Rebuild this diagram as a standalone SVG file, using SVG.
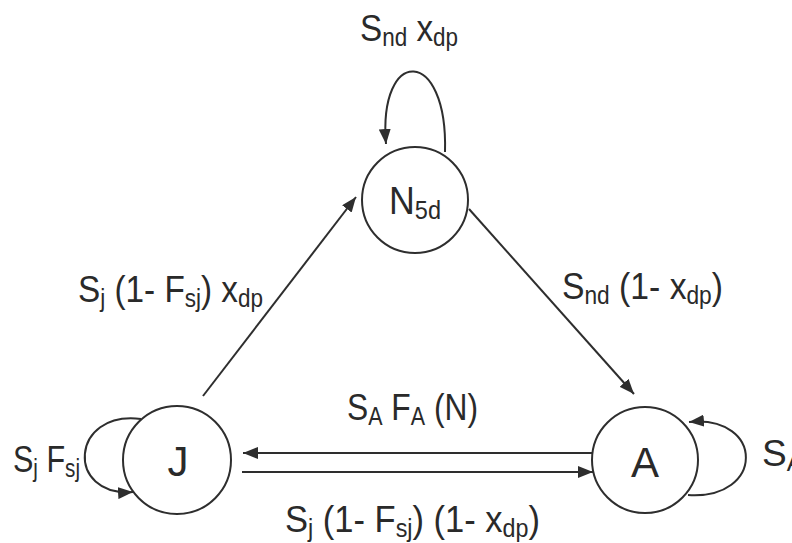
<svg xmlns="http://www.w3.org/2000/svg" width="792" height="543" viewBox="0 0 792 543">
<style>
.node{fill:#fff;stroke:#2e2e2e;stroke-width:2}
.edge{fill:none;stroke:#2e2e2e;stroke-width:2}
text{font-family:"Liberation Sans",Arial,sans-serif;fill:#2a2a2a;font-size:37px}
.sub{font-size:25px}
.nl{font-size:42px}
</style>
<defs>
<marker id="ah" markerUnits="userSpaceOnUse" markerWidth="16" markerHeight="12" refX="15" refY="6" orient="auto">
<path d="M0,0 L15,6 L0,12 z" fill="#2e2e2e"/>
</marker>
</defs>
<rect width="792" height="543" fill="#fff"/>
<g id="connectors">
<path class="edge" d="M203,396 L356,197" marker-end="url(#ah)"/>
<path class="edge" d="M469,209 L634,394" marker-end="url(#ah)"/>
<path class="edge" d="M592,453 L243,453" marker-end="url(#ah)"/>
<path class="edge" d="M242,472 L593,472" marker-end="url(#ah)"/>
<path class="edge" d="M445,152 C448,46 378,46 386,144" marker-end="url(#ah)"/>
<path class="edge" d="M141,419 C70,410 65,497 133,492" marker-end="url(#ah)"/>
<path class="edge" d="M688,495 C765,500 765,415 689,422" marker-end="url(#ah)"/>
</g>
<g id="labels">
<text x="360" y="41" textLength="98" lengthAdjust="spacingAndGlyphs">S<tspan class="sub" dy="5">nd</tspan><tspan dy="-5"> x</tspan><tspan class="sub" dy="5">dp</tspan></text>
<text x="78" y="302" textLength="185" lengthAdjust="spacingAndGlyphs">S<tspan class="sub" dy="5">j</tspan><tspan dy="-5"> (1- F</tspan><tspan class="sub" dy="5">sj</tspan><tspan dy="-5">) x</tspan><tspan class="sub" dy="5">dp</tspan></text>
<text x="562" y="299" textLength="161" lengthAdjust="spacingAndGlyphs">S<tspan class="sub" dy="5">nd</tspan><tspan dy="-5"> (1- x</tspan><tspan class="sub" dy="5">dp</tspan><tspan dy="-5">)</tspan></text>
<text x="347" y="420" textLength="131" lengthAdjust="spacingAndGlyphs">S<tspan class="sub" dy="5">A</tspan><tspan dy="-5"> F</tspan><tspan class="sub" dy="5">A</tspan><tspan dy="-5"> (N)</tspan></text>
<text x="13" y="472" textLength="67" lengthAdjust="spacingAndGlyphs">S<tspan class="sub" dy="5">j</tspan><tspan dy="-5"> F</tspan><tspan class="sub" dy="5">sj</tspan></text>
<text x="762" y="466">S<tspan class="sub" dy="5">A</tspan></text>
<text x="285" y="532" textLength="255" lengthAdjust="spacingAndGlyphs">S<tspan class="sub" dy="5">j</tspan><tspan dy="-5"> (1- F</tspan><tspan class="sub" dy="5">sj</tspan><tspan dy="-5">) (1- x</tspan><tspan class="sub" dy="5">dp</tspan><tspan dy="-5">)</tspan></text>
</g>
<g id="node-N5d">
<circle class="node" cx="415" cy="200" r="53"/>
<text class="nl" x="389" y="214" textLength="52" lengthAdjust="spacingAndGlyphs" style="font-size:38px">N<tspan class="sub" dy="5">5d</tspan></text>
</g>
<g id="node-J">
<circle class="node" cx="177" cy="460" r="54"/>
<text class="nl" x="178" y="476" text-anchor="middle">J</text>
</g>
<g id="node-A">
<circle class="node" cx="645" cy="460" r="53"/>
<text class="nl" x="645" y="477" text-anchor="middle">A</text>
</g>
</svg>
